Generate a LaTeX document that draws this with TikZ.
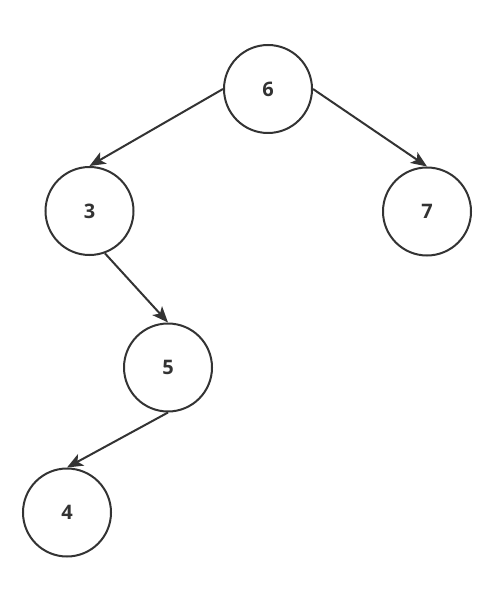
\documentclass[tikz,border=0pt]{standalone}
\usepackage{fontspec}
\setmainfont{Open Sans}
\usetikzlibrary{arrows.meta}
\definecolor{ink}{HTML}{333333}
\tikzset{
  treenode/.style={circle, draw=ink, line width=2pt, minimum size=88pt, inner sep=0pt,
    text=ink, font=\fontsize{20}{24}\selectfont\bfseries},
  edge/.style={draw=ink, line width=2pt, -{Stealth[length=16pt,width=13pt,inset=4pt]}}
}
\begin{document}
\begin{tikzpicture}[x=1pt,y=-1pt]
\useasboundingbox (0,0) rectangle (499,593);
\node[treenode] (n6) at (268,89) {6};
\node[treenode] (n3) at (89.5,211) {3};
\node[treenode] (n7) at (427,211.5) {7};
\node[treenode] (n5) at (168,367.5) {5};
\node[treenode] (n4) at (67,512.5) {4};
\draw[edge] (n6.west) -- (n3.north);
\draw[edge] (n6.east) -- (n7.north);
\draw[edge] (n3.-70) -- (n5.north);
\draw[edge] (n5.south) -- (n4.north);
\end{tikzpicture}
\end{document}
